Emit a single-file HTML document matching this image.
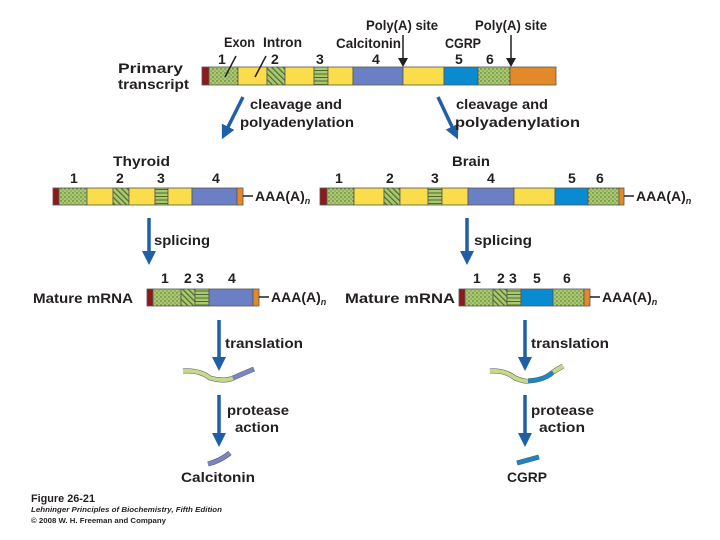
<!DOCTYPE html>
<html><head><meta charset="utf-8"><style>
html,body{margin:0;padding:0;background:#fff;width:720px;height:540px;overflow:hidden}
text{font-family:"Liberation Sans","DejaVu Sans",sans-serif;font-weight:bold;fill:#231f20}
</style></head><body>
<svg width="720" height="540" viewBox="0 0 720 540" xmlns="http://www.w3.org/2000/svg">
<defs>
<pattern id="dot" width="4" height="4" patternUnits="userSpaceOnUse"><rect width="4" height="4" fill="#a9c870"/><circle cx="1" cy="1" r="0.7" fill="#4d6b2a"/><circle cx="3" cy="3" r="0.6" fill="#5d7a34"/></pattern>
<pattern id="hat" width="4" height="4" patternUnits="userSpaceOnUse" patternTransform="rotate(-45)"><rect width="4" height="4" fill="#a9c870"/><rect width="1.2" height="4" fill="#4d6b2a"/></pattern>
<pattern id="str" width="4" height="3.5" patternUnits="userSpaceOnUse"><rect width="4" height="3.5" fill="#a9c870"/><rect width="4" height="1" fill="#4d6b2a"/></pattern>
<marker id="ah" markerWidth="4" markerHeight="4" refX="2" refY="2" orient="auto" markerUnits="strokeWidth"><path d="M0,0 L4,2 L0,4 Z" fill="#1f5fa8"/></marker>
</defs>
<g stroke="#555" stroke-width="0.8">
<rect x="202" y="67" width="7" height="18" fill="#8b1a1a"/>
<rect x="209" y="67" width="29" height="18" fill="url(#dot)"/>
<rect x="238" y="67" width="29" height="18" fill="#fbdc4a"/>
<rect x="267" y="67" width="18" height="18" fill="url(#hat)"/>
<rect x="285" y="67" width="29" height="18" fill="#fbdc4a"/>
<rect x="314" y="67" width="14" height="18" fill="url(#str)"/>
<rect x="328" y="67" width="25" height="18" fill="#fbdc4a"/>
<rect x="353" y="67" width="50" height="18" fill="#6b7fc4"/>
<rect x="403" y="67" width="41" height="18" fill="#fbdc4a"/>
<rect x="444" y="67" width="34" height="18" fill="#0a8ad0"/>
<rect x="478" y="67" width="32" height="18" fill="url(#dot)"/>
<rect x="510" y="67" width="46" height="18" fill="#e3892a"/>
<rect x="53" y="188" width="6" height="17" fill="#8b1a1a"/>
<rect x="59" y="188" width="28" height="17" fill="url(#dot)"/>
<rect x="87" y="188" width="26" height="17" fill="#fbdc4a"/>
<rect x="113" y="188" width="16" height="17" fill="url(#hat)"/>
<rect x="129" y="188" width="26" height="17" fill="#fbdc4a"/>
<rect x="155" y="188" width="13" height="17" fill="url(#str)"/>
<rect x="168" y="188" width="24" height="17" fill="#fbdc4a"/>
<rect x="192" y="188" width="45" height="17" fill="#6b7fc4"/>
<rect x="237" y="188" width="6" height="17" fill="#e3892a"/>
<rect x="320" y="188" width="7" height="17" fill="#8b1a1a"/>
<rect x="327" y="188" width="27" height="17" fill="url(#dot)"/>
<rect x="354" y="188" width="30" height="17" fill="#fbdc4a"/>
<rect x="384" y="188" width="16" height="17" fill="url(#hat)"/>
<rect x="400" y="188" width="28" height="17" fill="#fbdc4a"/>
<rect x="428" y="188" width="14" height="17" fill="url(#str)"/>
<rect x="442" y="188" width="26" height="17" fill="#fbdc4a"/>
<rect x="468" y="188" width="46" height="17" fill="#6b7fc4"/>
<rect x="514" y="188" width="41" height="17" fill="#fbdc4a"/>
<rect x="555" y="188" width="33" height="17" fill="#0a8ad0"/>
<rect x="588" y="188" width="31" height="17" fill="url(#dot)"/>
<rect x="619" y="188" width="5" height="17" fill="#e3892a"/>
<rect x="147" y="289" width="6" height="17" fill="#8b1a1a"/>
<rect x="153" y="289" width="28" height="17" fill="url(#dot)"/>
<rect x="181" y="289" width="14" height="17" fill="url(#hat)"/>
<rect x="195" y="289" width="14" height="17" fill="url(#str)"/>
<rect x="209" y="289" width="44" height="17" fill="#6b7fc4"/>
<rect x="253" y="289" width="6" height="17" fill="#e3892a"/>
<rect x="459" y="289" width="6" height="17" fill="#8b1a1a"/>
<rect x="465" y="289" width="28" height="17" fill="url(#dot)"/>
<rect x="493" y="289" width="14" height="17" fill="url(#hat)"/>
<rect x="507" y="289" width="14" height="17" fill="url(#str)"/>
<rect x="521" y="289" width="32" height="17" fill="#0a8ad0"/>
<rect x="553" y="289" width="31" height="17" fill="url(#dot)"/>
<rect x="584" y="289" width="6" height="17" fill="#e3892a"/>
</g>
<g stroke="#231f20" stroke-width="1.5">
<line x1="243" y1="196" x2="253" y2="196"/><line x1="624" y1="196" x2="634" y2="196"/>
<line x1="259" y1="297" x2="269" y2="297"/><line x1="590" y1="297" x2="600" y2="297"/>
<line x1="403" y1="35" x2="403" y2="60"/><line x1="511" y1="35" x2="511" y2="60"/>
<line x1="225" y1="77" x2="236" y2="56"/><line x1="255" y1="77" x2="266" y2="56"/>
</g>
<path d="M398,58 L408,58 L403,67 Z M506,58 L516,58 L511,67 Z" fill="#231f20"/>
<g stroke="#1f5fa8" stroke-width="3.5" fill="none" marker-end="url(#ah)">
<line x1="243" y1="97" x2="225" y2="133"/>
<line x1="438" y1="97" x2="455" y2="133"/>
<line x1="149" y1="218" x2="149" y2="258"/>
<line x1="467" y1="218" x2="467" y2="258"/>
<line x1="219" y1="320" x2="219" y2="364"/>
<line x1="525" y1="320" x2="525" y2="364"/>
<line x1="219" y1="395" x2="219" y2="440"/>
<line x1="525" y1="395" x2="525" y2="440"/>
</g>
<g fill="none" stroke-width="4" stroke-linecap="butt">
<path d="M183,371 Q200,370 210,378 Q225,382 233,378" stroke="#555" stroke-width="5"/>
<path d="M183,371 Q200,370 210,378 Q225,382 233,378" stroke="#c5d98a"/>
<path d="M233,378 L254,369" stroke="#555" stroke-width="5"/><path d="M233,378 L254,369" stroke="#7a86c4"/>
<path d="M490,371 Q505,370 515,378 Q525,382 528,381" stroke="#555" stroke-width="5"/>
<path d="M490,371 Q505,370 515,378 Q525,382 528,381" stroke="#c5d98a"/>
<path d="M528,381 Q545,380 553,372" stroke="#555" stroke-width="5"/><path d="M528,381 Q545,380 553,372" stroke="#1a86c8"/>
<path d="M553,372 L563,366" stroke="#555" stroke-width="5"/><path d="M553,372 L563,366" stroke="#c5d98a"/>
<path d="M208,464 Q220,461 230,453" stroke="#555" stroke-width="5"/><path d="M208,464 Q220,461 230,453" stroke="#7a86c4"/>
<path d="M517,463 L539,457" stroke="#555" stroke-width="5"/><path d="M517,463 L539,457" stroke="#1a86c8"/>
</g>
<g font-size="14">
<text x="118" y="73" textLength="65" lengthAdjust="spacingAndGlyphs">Primary</text><text x="118" y="89" textLength="71" lengthAdjust="spacingAndGlyphs">transcript</text>
<text x="224" y="47" textLength="31" lengthAdjust="spacingAndGlyphs">Exon</text><text x="263" y="47" textLength="39" lengthAdjust="spacingAndGlyphs">Intron</text>
<text x="336" y="48" textLength="65" lengthAdjust="spacingAndGlyphs">Calcitonin</text><text x="445" y="48" textLength="36" lengthAdjust="spacingAndGlyphs">CGRP</text>
<text x="366" y="30" textLength="72" lengthAdjust="spacingAndGlyphs">Poly(A) site</text><text x="475" y="30" textLength="72" lengthAdjust="spacingAndGlyphs">Poly(A) site</text>
<text x="218" y="64">1</text><text x="271" y="64">2</text><text x="316" y="64">3</text><text x="372" y="64">4</text><text x="455" y="64">5</text><text x="486" y="64">6</text>
<text x="250" y="109" textLength="92" lengthAdjust="spacingAndGlyphs">cleavage and</text><text x="240" y="127" textLength="114" lengthAdjust="spacingAndGlyphs">polyadenylation</text>
<text x="456" y="109" textLength="92" lengthAdjust="spacingAndGlyphs">cleavage and</text><text x="455" y="127" textLength="125" lengthAdjust="spacingAndGlyphs">polyadenylation</text>
<text x="113" y="166" textLength="57" lengthAdjust="spacingAndGlyphs">Thyroid</text><text x="452" y="166" textLength="38" lengthAdjust="spacingAndGlyphs">Brain</text>
<text x="70" y="183">1</text><text x="116" y="183">2</text><text x="157" y="183">3</text><text x="212" y="183">4</text>
<text x="335" y="183">1</text><text x="386" y="183">2</text><text x="431" y="183">3</text><text x="487" y="183">4</text><text x="568" y="183">5</text><text x="596" y="183">6</text>
<text x="255" y="201">AAA(A)<tspan font-size="9" font-style="italic" dy="3">n</tspan></text>
<text x="636" y="201">AAA(A)<tspan font-size="9" font-style="italic" dy="3">n</tspan></text>
<text x="154" y="245" textLength="56" lengthAdjust="spacingAndGlyphs">splicing</text><text x="474" y="245" textLength="58" lengthAdjust="spacingAndGlyphs">splicing</text>
<text x="161" y="283">1</text><text x="184" y="283">2</text><text x="196" y="283">3</text><text x="228" y="283">4</text>
<text x="473" y="283">1</text><text x="497" y="283">2</text><text x="509" y="283">3</text><text x="533" y="283">5</text><text x="563" y="283">6</text>
<text x="33" y="303" textLength="100" lengthAdjust="spacingAndGlyphs">Mature mRNA</text><text x="345" y="303" textLength="110" lengthAdjust="spacingAndGlyphs">Mature mRNA</text>
<text x="271" y="302">AAA(A)<tspan font-size="9" font-style="italic" dy="3">n</tspan></text>
<text x="602" y="302">AAA(A)<tspan font-size="9" font-style="italic" dy="3">n</tspan></text>
<text x="225" y="348" textLength="78" lengthAdjust="spacingAndGlyphs">translation</text><text x="531" y="348" textLength="78" lengthAdjust="spacingAndGlyphs">translation</text>
<text x="227" y="415" textLength="62" lengthAdjust="spacingAndGlyphs">protease</text><text x="235" y="432" textLength="44" lengthAdjust="spacingAndGlyphs">action</text>
<text x="531" y="415" textLength="63" lengthAdjust="spacingAndGlyphs">protease</text><text x="539" y="432" textLength="46" lengthAdjust="spacingAndGlyphs">action</text>
<text x="181" y="482" textLength="74" lengthAdjust="spacingAndGlyphs">Calcitonin</text><text x="507" y="482" textLength="40" lengthAdjust="spacingAndGlyphs">CGRP</text>
</g>
<text x="31" y="502" font-size="11" textLength="64" lengthAdjust="spacingAndGlyphs">Figure 26-21</text>
<text x="31" y="512" font-size="7" font-style="italic" textLength="191" lengthAdjust="spacingAndGlyphs">Lehninger Principles of Biochemistry, Fifth Edition</text>
<text x="31" y="523" font-size="7" font-weight="normal" textLength="135" lengthAdjust="spacingAndGlyphs">© 2008 W. H. Freeman and Company</text>
</svg>
</body></html>
